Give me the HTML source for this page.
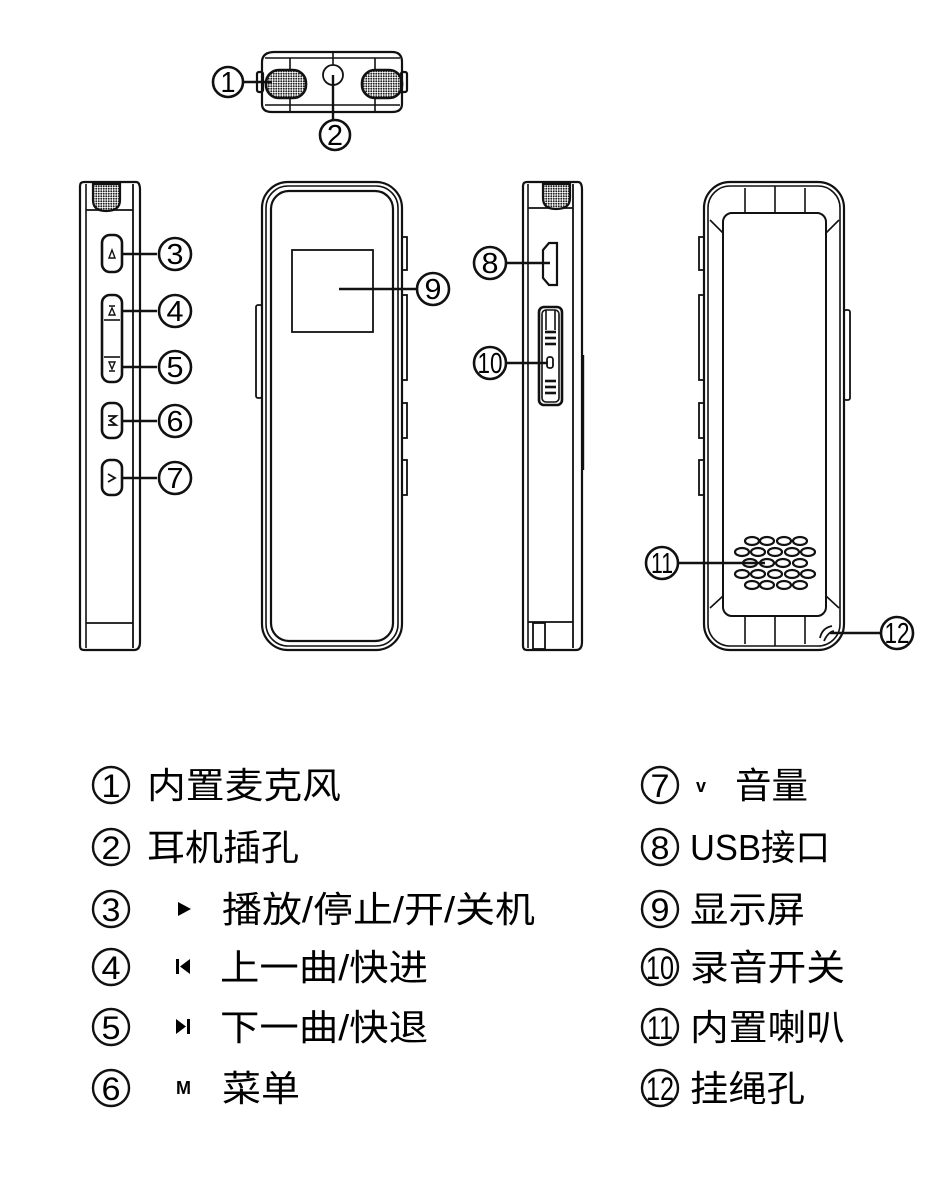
<!DOCTYPE html>
<html><head><meta charset="utf-8"><style>
html,body{margin:0;padding:0;background:#fff;}
svg{display:block}
.t{font-family:"Liberation Sans","Noto Sans CJK SC",sans-serif;fill:#000;}
</style></head><body>
<svg width="950" height="1196" viewBox="0 0 950 1196" xmlns="http://www.w3.org/2000/svg">
<defs>
<pattern id="mesh" width="2.5" height="2.5" patternUnits="userSpaceOnUse"><rect width="2.5" height="2.5" fill="#fff"/><circle cx="1.25" cy="1.25" r="0.95" fill="#222"/></pattern>
</defs>
<g fill="none" stroke="#111" stroke-width="2.2">
<path d="M262,62 Q262,52 275,52 L392,52 Q402,52 402,62 L402,104 Q402,112 392,112 L272,112 Q262,112 262,104 Z"/>
<line x1="265" y1="58" x2="400" y2="58" stroke-width="1.6"/><line x1="265" y1="105" x2="400" y2="105" stroke-width="1.6"/>
<line x1="333" y1="52" x2="333" y2="65" stroke-width="1.6"/><line x1="290" y1="58" x2="290" y2="112" stroke-width="1.6"/><line x1="375" y1="58" x2="375" y2="112" stroke-width="1.6"/>
<rect x="266" y="70" width="40" height="28" rx="13" fill="url(#mesh)" stroke-width="2.6"/>
<rect x="362" y="70" width="40" height="28" rx="13" fill="url(#mesh)" stroke-width="2.6"/>
<rect x="257" y="72" width="6" height="20" rx="2"/><rect x="401" y="72" width="6" height="20" rx="2"/>
<circle cx="333" cy="75" r="10" stroke-width="1.8"/>
<line x1="242" y1="82" x2="272" y2="82" stroke-width="2.4"/>
<line x1="333" y1="75" x2="333" y2="120" stroke-width="2.4"/>

<path d="M80,186 Q80,182 84,182 L136,182 Q140,182 140,190 L140,642 Q140,650 134,650 L84,650 Q80,650 80,646 Z"/>
<line x1="86" y1="184" x2="86" y2="648" stroke-width="1.6"/><line x1="133" y1="184" x2="133" y2="648" stroke-width="1.8"/>
<line x1="86" y1="210" x2="133" y2="210" stroke-width="1.8"/><line x1="86" y1="623" x2="133" y2="623" stroke-width="1.8"/>
<path d="M93,184 L120,184 L120,200 Q120,211 106,211 Q93,211 93,200 Z" fill="url(#mesh)"/>
<rect x="102" y="235" width="20" height="37" rx="8" stroke-width="2.6"/>
<rect x="102" y="295" width="20" height="87" rx="8" stroke-width="2.6"/>
<line x1="104" y1="320" x2="120" y2="320" stroke-width="1.6"/><line x1="104" y1="357" x2="120" y2="357" stroke-width="1.6"/>
<rect x="102" y="403" width="20" height="35" rx="8" stroke-width="2.6"/>
<rect x="102" y="460" width="20" height="35" rx="8" stroke-width="2.6"/>
<path d="M109,258 L112,250 L115,258 Z" stroke-width="1.4"/>
<path d="M109,315 L112,308 L115,315 Z M109,306 L115,306" stroke-width="1.4"/>
<path d="M109,362 L112,369 L115,362 Z M109,371 L115,371" stroke-width="1.4"/>
<path d="M108,416 L116,416 L110,420.5 L116,425 L108,425" stroke-width="1.8"/>
<path d="M108,474 L115,478 L108,482" stroke-width="1.8"/>
<g stroke-width="2.6"><line x1="122" y1="254" x2="157" y2="254"/><line x1="122" y1="311" x2="157" y2="311"/><line x1="122" y1="367" x2="157" y2="367"/><line x1="122" y1="421" x2="157" y2="421"/><line x1="122" y1="478" x2="157" y2="478"/></g>

<rect x="262" y="182" width="140" height="468" rx="26"/>
<rect x="266" y="186" width="132" height="460" rx="22" stroke-width="1.6"/>
<rect x="271" y="191" width="122" height="450" rx="18"/>
<rect x="292" y="250" width="81" height="82" stroke-width="1.8"/>
<g stroke-width="1.8">
<rect x="402" y="237" width="5" height="33"/><rect x="402" y="295" width="5" height="85"/><rect x="402" y="403" width="5" height="35"/><rect x="402" y="460" width="5" height="35"/>
<rect x="256" y="305" width="6" height="93" rx="2"/>
</g>
<line x1="339" y1="289" x2="416" y2="289" stroke-width="2.6"/>

<path d="M523,186 Q523,182 527,182 L578,182 Q582,182 582,190 L582,642 Q582,650 576,650 L527,650 Q523,650 523,646 Z"/>
<line x1="528" y1="184" x2="528" y2="648" stroke-width="1.6"/><line x1="573" y1="184" x2="573" y2="648" stroke-width="1.8"/>
<line x1="528" y1="208" x2="573" y2="208" stroke-width="1.8"/><line x1="528" y1="622" x2="573" y2="622" stroke-width="1.8"/>
<path d="M543,184 L570,184 L570,198 Q570,209 556,209 Q543,209 543,198 Z" fill="url(#mesh)"/>
<path d="M543,250 L549,243 L557,243 L557,285 L549,285 L543,278 Z"/>
<rect x="539" y="307" width="23" height="98" rx="5" stroke-width="2.6"/>
<rect x="542" y="310" width="17" height="92" rx="4" stroke-width="1.6"/>
<line x1="546" y1="310" x2="546" y2="330" stroke-width="1.6"/><line x1="555" y1="310" x2="555" y2="330" stroke-width="1.6"/>
<g stroke-width="2.6"><line x1="545" y1="332" x2="556" y2="332"/><line x1="545" y1="338" x2="556" y2="338"/><line x1="545" y1="344" x2="556" y2="344"/>
<line x1="545" y1="381" x2="556" y2="381"/><line x1="545" y1="387" x2="556" y2="387"/><line x1="545" y1="393" x2="556" y2="393"/></g>
<rect x="547" y="357" width="6" height="11" rx="2.5" stroke-width="1.8"/>
<rect x="533" y="623" width="12" height="26" stroke-width="1.8"/>
<line x1="583" y1="355" x2="583" y2="470" stroke-width="2.4"/>
<line x1="505" y1="263" x2="550" y2="263" stroke-width="2.6"/>
<line x1="505" y1="363" x2="548" y2="363" stroke-width="2.6"/>

<rect x="704" y="182" width="140" height="468" rx="26"/>
<rect x="708" y="186" width="132" height="460" rx="22" stroke-width="1.6"/>
<rect x="723" y="213" width="103" height="403" rx="9" stroke-width="2"/>
<g stroke-width="1.6">
<line x1="745" y1="188" x2="745" y2="213"/><line x1="775" y1="186" x2="775" y2="213"/><line x1="805" y1="188" x2="805" y2="213"/>
<line x1="745" y1="616" x2="745" y2="644"/><line x1="775" y1="616" x2="775" y2="646"/><line x1="805" y1="616" x2="805" y2="644"/>
<line x1="723" y1="233" x2="710" y2="220"/><line x1="826" y1="233" x2="839" y2="220"/>
<line x1="723" y1="596" x2="710" y2="608"/><line x1="826" y1="596" x2="839" y2="608"/>
</g>
<g stroke-width="1.8">
<rect x="699" y="237" width="5" height="33"/><rect x="699" y="295" width="5" height="85"/><rect x="699" y="403" width="5" height="35"/><rect x="699" y="460" width="5" height="35"/>
<rect x="844" y="310" width="6" height="90" rx="2"/>
</g>
<path d="M820,638 Q822,628 832,626 M824,641 Q828,632 834,631" stroke-width="1.8"/>
<g stroke-width="2.2">
<ellipse cx="752" cy="541" rx="7" ry="4"/><ellipse cx="767" cy="541" rx="7" ry="4"/><ellipse cx="784" cy="541" rx="7" ry="4"/><ellipse cx="800" cy="541" rx="7" ry="4"/>
<ellipse cx="742" cy="552" rx="7" ry="4"/><ellipse cx="758" cy="552" rx="7" ry="4"/><ellipse cx="775" cy="552" rx="7" ry="4"/><ellipse cx="792" cy="552" rx="7" ry="4"/><ellipse cx="808" cy="552" rx="7" ry="4"/>
<ellipse cx="750" cy="563" rx="7" ry="4"/><ellipse cx="767" cy="563" rx="7" ry="4"/><ellipse cx="783" cy="563" rx="7" ry="4"/><ellipse cx="800" cy="563" rx="7" ry="4"/>
<ellipse cx="742" cy="574" rx="7" ry="4"/><ellipse cx="758" cy="574" rx="7" ry="4"/><ellipse cx="775" cy="574" rx="7" ry="4"/><ellipse cx="792" cy="574" rx="7" ry="4"/><ellipse cx="808" cy="574" rx="7" ry="4"/>
<ellipse cx="752" cy="585" rx="7" ry="4"/><ellipse cx="767" cy="585" rx="7" ry="4"/><ellipse cx="784" cy="585" rx="7" ry="4"/><ellipse cx="800" cy="585" rx="7" ry="4"/>
</g>
<line x1="677" y1="563" x2="765" y2="563" stroke-width="2.6"/>
<line x1="830" y1="633" x2="881" y2="633" stroke-width="2.6"/>

<g stroke-width="2.6" fill="#fff">
<circle cx="228" cy="82" r="15"/><circle cx="335" cy="135" r="15"/>
<circle cx="175" cy="254" r="16"/><circle cx="175" cy="311" r="16"/><circle cx="175" cy="367" r="16"/><circle cx="175" cy="421" r="16"/><circle cx="175" cy="478" r="16"/>
<circle cx="433" cy="289" r="16"/><circle cx="490" cy="263" r="16"/><circle cx="490" cy="363" r="16"/>
<circle cx="662" cy="563" r="16"/><circle cx="897" cy="633" r="16"/>
</g>
<g stroke-width="2.4">
<circle cx="111" cy="785" r="18"/><circle cx="111" cy="847" r="18"/><circle cx="111" cy="909" r="18"/><circle cx="111" cy="967" r="18"/><circle cx="111" cy="1027" r="18"/><circle cx="111" cy="1088" r="18"/>
<circle cx="660" cy="785" r="18"/><circle cx="660" cy="847" r="18"/><circle cx="660" cy="909" r="18"/><circle cx="660" cy="967" r="18"/><circle cx="660" cy="1027" r="18"/><circle cx="660" cy="1088" r="18"/>
</g>
</g>
<g class="t" text-anchor="middle" font-size="29">
<text x="228" y="92" textLength="15" lengthAdjust="spacingAndGlyphs">1</text><text x="335" y="145" textLength="16" lengthAdjust="spacingAndGlyphs">2</text>
<text x="175" y="264" textLength="17" lengthAdjust="spacingAndGlyphs">3</text><text x="175" y="321" textLength="17" lengthAdjust="spacingAndGlyphs">4</text><text x="175" y="377" textLength="17" lengthAdjust="spacingAndGlyphs">5</text><text x="175" y="431" textLength="17" lengthAdjust="spacingAndGlyphs">6</text><text x="175" y="488" textLength="17" lengthAdjust="spacingAndGlyphs">7</text>
<text x="433" y="299" textLength="17" lengthAdjust="spacingAndGlyphs">9</text><text x="490" y="273" textLength="17" lengthAdjust="spacingAndGlyphs">8</text>
<text x="490" y="373" textLength="25" lengthAdjust="spacingAndGlyphs">10</text>
<text x="662" y="573" textLength="22" lengthAdjust="spacingAndGlyphs">11</text>
<text x="897" y="643" textLength="25" lengthAdjust="spacingAndGlyphs">12</text>
</g>
<g class="t" text-anchor="middle" font-size="32">
<text x="111" y="797" textLength="19" lengthAdjust="spacingAndGlyphs">1</text><text x="111" y="859" textLength="19" lengthAdjust="spacingAndGlyphs">2</text><text x="111" y="921" textLength="19" lengthAdjust="spacingAndGlyphs">3</text><text x="111" y="979" textLength="19" lengthAdjust="spacingAndGlyphs">4</text><text x="111" y="1039" textLength="19" lengthAdjust="spacingAndGlyphs">5</text><text x="111" y="1100" textLength="19" lengthAdjust="spacingAndGlyphs">6</text>
<text x="660" y="797" textLength="19" lengthAdjust="spacingAndGlyphs">7</text><text x="660" y="859" textLength="19" lengthAdjust="spacingAndGlyphs">8</text><text x="660" y="921" textLength="19" lengthAdjust="spacingAndGlyphs">9</text>
<text x="660" y="979" textLength="28" lengthAdjust="spacingAndGlyphs">10</text>
<text x="660" y="1039" textLength="26" lengthAdjust="spacingAndGlyphs">11</text>
<text x="660" y="1100" textLength="28" lengthAdjust="spacingAndGlyphs">12</text>
</g>
<g class="t" font-size="36">
<text x="147" y="798" textLength="194" lengthAdjust="spacingAndGlyphs">内置麦克风</text>
<text x="147" y="860" textLength="152" lengthAdjust="spacingAndGlyphs">耳机插孔</text>
<text x="222" y="922" textLength="313" lengthAdjust="spacingAndGlyphs">播放/停止/开/关机</text>
<text x="220" y="980" textLength="208" lengthAdjust="spacingAndGlyphs">上一曲/快进</text>
<text x="220" y="1040" textLength="208" lengthAdjust="spacingAndGlyphs">下一曲/快退</text>
<text x="222" y="1101" textLength="78" lengthAdjust="spacingAndGlyphs">菜单</text>
<text x="735" y="798" textLength="73" lengthAdjust="spacingAndGlyphs">音量</text>
<text x="690" y="860" textLength="140" lengthAdjust="spacingAndGlyphs">USB接口</text>
<text x="690" y="922" textLength="115" lengthAdjust="spacingAndGlyphs">显示屏</text>
<text x="690" y="980" textLength="155" lengthAdjust="spacingAndGlyphs">录音开关</text>
<text x="690" y="1040" textLength="155" lengthAdjust="spacingAndGlyphs">内置喇叭</text>
<text x="690" y="1101" textLength="115" lengthAdjust="spacingAndGlyphs">挂绳孔</text>
</g>
<g fill="#000">
<path d="M178,902 L191,909 L178,916 Z"/>
<rect x="176" y="959" width="3" height="15"/><path d="M190,959 L180,966.5 L190,974 Z"/>
<path d="M176,1019 L186,1026.5 L176,1034 Z"/><rect x="187" y="1019" width="3" height="15"/>
<text x="176" y="1094" font-family="Liberation Sans,sans-serif" font-weight="bold" font-size="18">M</text>
<text x="696" y="792" font-family="Liberation Sans,sans-serif" font-weight="bold" font-size="18">v</text>
</g>
</svg>
</body></html>
